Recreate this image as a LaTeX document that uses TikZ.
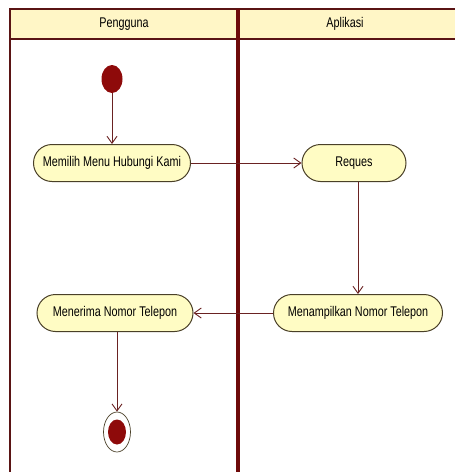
\documentclass[tikz,border=0pt]{standalone}
\usepackage{fontspec}
\usepackage{graphicx}
\setmainfont{Liberation Sans}
\usetikzlibrary{arrows.meta,shapes.misc,shapes.geometric}
\definecolor{lanebrd}{HTML}{5A1414}
\definecolor{divbrd}{HTML}{6E0A0A}
\definecolor{hdrfill}{HTML}{FFF6C6}
\definecolor{actfill}{HTML}{FFFCC4}
\definecolor{actbrd}{HTML}{4A4028}
\definecolor{flow}{HTML}{6A2222}
\definecolor{dot}{HTML}{8E0A0A}
% labels are set slightly taller than wide
\newcommand{\tallbox}[1]{\scalebox{1}[1.3]{#1}}
\tikzset{
  activity/.style={draw=actbrd, fill=actfill, line width=1pt, rounded rectangle,
    minimum height=37pt, inner xsep=9pt, font=\fontsize{10.8}{12}\selectfont},
  lanetitle/.style={font=\fontsize{10.8}{12}\selectfont},
  flowarrow/.style={draw=flow, line width=0.9pt, -{Straight Barb[length=7pt,width=10pt,line width=0.9pt]}},
}
\begin{document}
\begin{tikzpicture}[x=1pt,y=-1pt]
\useasboundingbox (0,0) rectangle (455,472);
% header band and swimlane frame
\fill[hdrfill] (10,9) rectangle (460,39);
\draw[lanebrd, line width=2.4pt] (10,480) -- (10,9) -- (460,9);
\draw[lanebrd, line width=2.4pt] (10,39) -- (460,39);
\draw[divbrd, line width=3.6pt] (238,9) -- (238,480);
\node[lanetitle] (lane1) at (124,24) {\tallbox{Pengguna}};
\node[lanetitle] (lane2) at (345,24) {\tallbox{Aplikasi}};
% start and end states
\node[draw=none, fill=dot, ellipse, minimum width=21pt, minimum height=28pt, inner sep=0pt] (start) at (112,79) {};
\node[draw=actbrd, fill=white, ellipse, line width=0.7pt, minimum width=27pt, minimum height=40pt, inner sep=0pt] (end) at (117,432) {};
\node[fill=dot, ellipse, minimum width=18pt, minimum height=25pt, inner sep=0pt] (endcore) at (end.center) {};
% activities
\node[activity, minimum width=175pt] (memilih) at (112,163) {\tallbox{Memilih Menu Hubungi Kami}};
\node[activity, minimum width=122pt] (reques) at (354,163) {\tallbox{Reques}};
\node[activity, minimum width=187pt] (tampil) at (358,313) {\tallbox{Menampilkan Nomor Telepon}};
\node[activity, minimum width=174pt] (terima) at (115,313) {\tallbox{Menerima Nomor Telepon}};
% control flows
\draw[flowarrow] (start.south) -- (memilih.north);
\draw[flowarrow] (memilih.east) -- (reques.west);
\draw[flowarrow] (reques.south -| tampil.north) -- (tampil.north);
\draw[flowarrow] (tampil.west) -- (terima.east);
\draw[flowarrow] (terima.south -| end.north) -- (end.north);
\end{tikzpicture}
\end{document}
